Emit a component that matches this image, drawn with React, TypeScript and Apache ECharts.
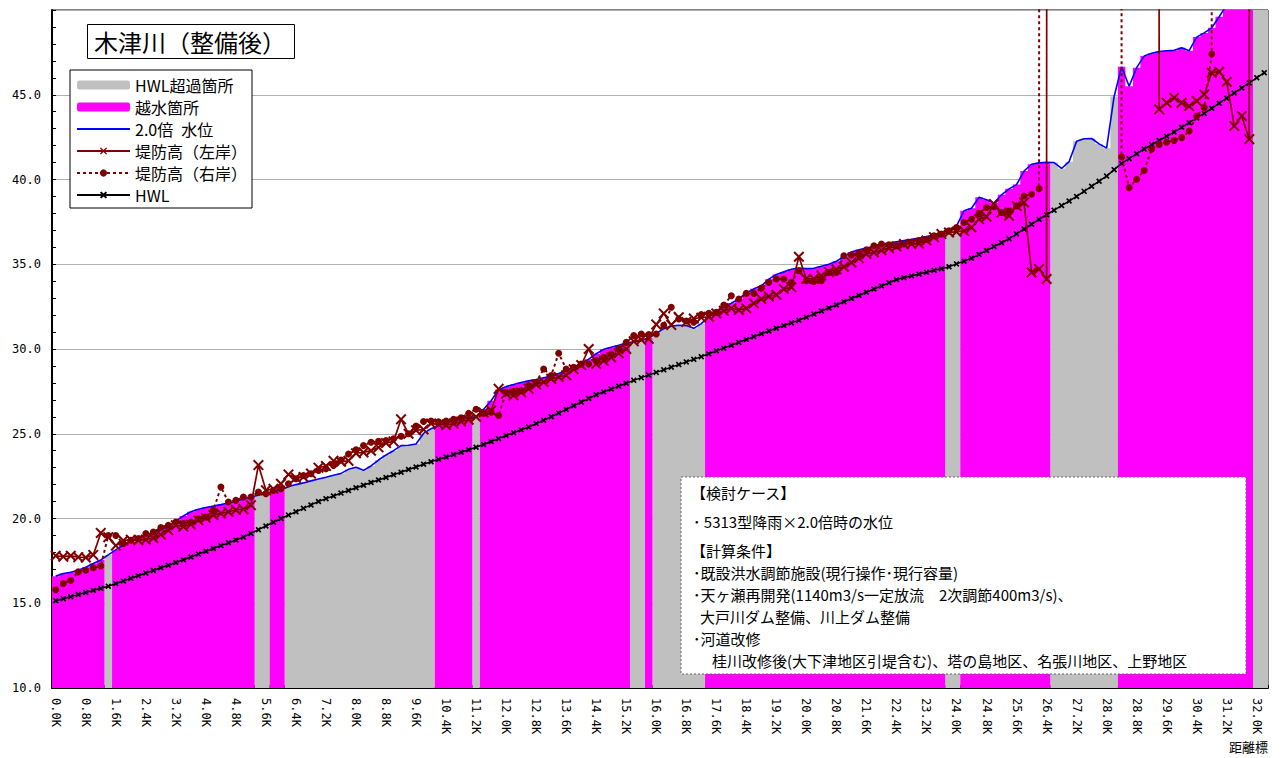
import React, { useEffect, useRef } from 'react';
import * as echarts from 'echarts';

// distance markers every 0.2 km (0.0K .. 32.2K)
const distances: string[] = Array.from({ length: 162 }, (_, i) => (i * 0.2).toFixed(1) + 'K');

// 2.0x water level
const waterLevel = [
  16.6, 16.75, 16.83, 16.95, 17.12, 17.35, 17.55, 17.85, 18.15, 18.45,
  18.65, 18.85, 19.0, 19.15, 19.32, 19.55, 19.85, 20.15, 20.4, 20.55,
  20.65, 20.73, 20.82, 20.92, 21.02, 21.15, 21.27, 21.37, 21.47, 21.56,
  21.7, 21.87, 22.0, 22.1, 22.22, 22.33, 22.43, 22.55, 22.66, 22.9,
  23.02, 22.84, 23.1, 23.45, 23.75, 24.0, 24.3, 24.32, 24.4, 25.02,
  25.3, 25.48, 25.66, 25.82, 25.94, 25.97, 26.0, 26.45, 26.95, 27.6,
  27.78, 27.9, 28.02, 28.12, 28.2, 28.3, 28.4, 28.55, 28.72, 28.92,
  29.12, 29.4, 29.72, 29.98, 30.1, 30.22, 30.35, 30.43, 30.48, 30.65,
  30.92, 31.2, 31.35, 31.4, 31.38, 31.22, 31.5, 31.9, 32.25, 32.5,
  32.7, 32.95, 33.3, 33.55, 33.72, 34.12, 34.4, 34.55, 34.7, 34.78,
  34.74, 34.76, 34.88, 35.0, 35.18, 35.45, 35.72, 35.85, 35.95, 36.05,
  36.18, 36.25, 36.33, 36.4, 36.47, 36.55, 36.63, 36.72, 36.85, 37.0,
  37.25, 38.15, 38.3, 38.95, 38.8, 38.62, 39.1, 39.45, 39.7, 40.5,
  40.9, 40.98, 41.02, 41.0, 40.65, 41.05, 42.25, 42.4, 42.42, 42.1,
  41.85, 44.9, 46.65, 45.5, 46.6, 47.28, 47.45, 47.55, 47.6, 47.62,
  47.77, 47.6, 48.4, 48.65, 48.95, 49.6, 50.3, 51.0, 51.6, 52.2,
  52.8, 53.4,
];

// HWL (planned high water level)
const hwl = [
  15.15, 15.27, 15.39, 15.51, 15.63, 15.76, 15.88, 16.0, 16.16, 16.31,
  16.47, 16.62, 16.78, 16.93, 17.09, 17.24, 17.4, 17.57, 17.73, 17.9,
  18.07, 18.23, 18.4, 18.57, 18.73, 18.9, 19.12, 19.34, 19.56, 19.78,
  20.0, 20.2, 20.4, 20.6, 20.8, 21.0, 21.17, 21.33, 21.5, 21.65,
  21.81, 21.96, 22.12, 22.27, 22.42, 22.58, 22.73, 22.89, 23.04, 23.2,
  23.35, 23.49, 23.63, 23.77, 23.91, 24.06, 24.2, 24.37, 24.54, 24.71,
  24.89, 25.06, 25.23, 25.4, 25.6, 25.8, 26.0, 26.22, 26.43, 26.65,
  26.87, 27.08, 27.3, 27.47, 27.64, 27.81, 27.98, 28.15, 28.31, 28.46,
  28.62, 28.77, 28.93, 29.08, 29.24, 29.39, 29.55, 29.72, 29.89, 30.05,
  30.22, 30.39, 30.56, 30.73, 30.9, 31.06, 31.22, 31.38, 31.54, 31.7,
  31.88, 32.06, 32.24, 32.42, 32.6, 32.79, 32.98, 33.16, 33.35, 33.54,
  33.72, 33.91, 34.1, 34.21, 34.31, 34.42, 34.53, 34.64, 34.74, 34.85,
  35.02, 35.18, 35.35, 35.58, 35.81, 36.04, 36.27, 36.5, 36.79, 37.08,
  37.36, 37.65, 37.92, 38.19, 38.46, 38.73, 39.0, 39.3, 39.6, 39.9,
  40.2, 40.58, 40.95, 41.23, 41.52, 41.8, 42.05, 42.3, 42.55, 42.8,
  43.08, 43.35, 43.63, 43.9, 44.2, 44.5, 44.8, 45.1, 45.4, 45.7,
  46.0, 46.3,
];

// levee crest, left bank (999 = no levee / off scale)
const leftBank = [
  17.8, 17.75, 17.8, 17.72, 17.7, 17.85, 19.15, 18.9, 18.4, 18.7,
  18.75, 18.72, 18.75, 18.85, 19.05, 19.3, 19.6, 19.52, 19.65, 19.9,
  20.05, 20.2, 20.3, 20.4, 20.5, 20.55, 20.78, 23.15, 21.66, 21.75,
  22.05, 22.6, 22.4, 22.45, 22.65, 23.0, 23.1, 23.4, 23.35, 23.4,
  23.85, 23.9, 24.0, 24.2, 24.45, 24.55, 25.85, 25.0, 25.2, 25.25,
  25.6, 25.55, 25.5, 25.6, 25.72, 25.83, 26.0, 26.25, 26.37, 27.65,
  27.36, 27.26, 27.45, 27.65, 27.9, 28.05, 28.24, 28.35, 28.45, 28.8,
  29.05, 30.0, 29.12, 29.3, 29.5, 29.75, 30.0, 30.45, 30.55, 30.6,
  31.45, 32.1, 31.42, 31.87, 31.6, 31.8, 31.85, 31.9, 32.1, 32.25,
  32.4, 32.3, 32.4, 32.7, 32.95, 33.1, 33.2, 33.54, 33.64, 35.44,
  34.13, 34.15, 34.33, 34.55, 34.7, 34.85, 35.1, 35.35, 35.6, 35.7,
  35.82, 35.95, 36.05, 36.19, 36.2, 36.22, 36.4, 36.6, 36.78, 36.87,
  36.92, 36.97, 37.17, 37.66, 37.8, 38.55, 38.05, 37.86, 38.44, 38.64,
  34.52, 34.72, 34.13, 999, 999, 999, 999, 999, 999, 999,
  999, 999, 999, 999, 999, 999, 999, 44.14, 44.53, 44.82,
  44.53, 44.33, 44.63, 45.02, 46.3, 46.36, 45.77, 43.16, 43.75, 42.38,
  999, 999,
];

// levee crest, right bank (999 = no levee / off scale)
const rightBank = [
  15.8, 16.17, 16.36, 16.85, 16.95, 17.09, 17.2, 19.0, 19.0, 18.52,
  18.72, 18.82, 19.11, 19.2, 19.46, 19.6, 19.79, 19.7, 19.79, 19.99,
  20.09, 20.48, 21.86, 20.97, 21.07, 21.27, 21.27, 21.56, 21.46, 21.66,
  21.76, 22.05, 22.35, 22.54, 22.64, 22.84, 22.94, 23.13, 23.45, 23.8,
  24.05, 24.3, 24.5, 24.55, 24.6, 24.7, 24.85, 25.0, 25.45, 25.72,
  25.75, 25.7, 25.75, 25.85, 25.94, 26.2, 26.45, 26.2, 26.27, 26.08,
  27.45, 27.5, 27.55, 27.84, 28.04, 28.82, 28.43, 29.75, 28.82, 28.92,
  29.12, 29.12, 29.32, 29.51, 29.71, 30.0, 30.39, 30.79, 30.88, 30.85,
  30.88, 31.4, 32.46, 31.77, 31.65, 31.58, 32.03, 32.1, 32.16, 32.6,
  33.14, 32.95, 33.28, 33.28, 33.59, 33.93, 34.13, 34.13, 33.93, 34.62,
  34.03, 33.99, 34.03, 34.52, 34.52, 35.5, 35.55, 35.64, 35.85, 36.09,
  36.19, 36.15, 36.09, 36.19, 36.29, 36.4, 36.48, 36.68, 36.78, 36.97,
  37.17, 37.46, 37.66, 38.0, 38.35, 38.39, 38.05, 38.15, 38.44, 39.03,
  39.13, 39.46, 999, 999, 999, 999, 999, 999, 999, 999,
  999, 999, 41.33, 39.52, 40.01, 40.54, 41.78, 42.07, 42.2, 42.31,
  42.47, 42.86, 43.75, 44.24, 47.4, 999, 999, 999, 999, 999,
  999, 999,
];

// overtopping sections [from km, to km]
const overtopSections: [number, number][] = [
  [0.0, 1.2], [1.6, 5.2], [5.8, 6.0], [10.2, 11.0], [11.4, 15.2],
  [15.8, 15.8], [17.4, 23.6], [24.2, 26.4], [28.4, 31.8],
];

const noteLines = [
  '【検討ケース】',
  '･ 5313型降雨×2.0倍時の水位',
  '【計算条件】',
  '･既設洪水調節施設(現行操作･現行容量)',
  '･天ヶ瀬再開発(1140m3/s一定放流　2次調節400m3/s)、',
  '大戸川ダム整備、川上ダム整備',
  '･河道改修',
  '桂川改修後(大下津地区引堤含む)、塔の島地区、名張川地区、上野地区',
];

const X_BIG = 'path://M0,1.3L1.3,0L5,3.7L8.7,0L10,1.3L6.3,5L10,8.7L8.7,10L5,6.3L1.3,10L0,8.7L3.7,5Z';
const X_SMALL = 'path://M0,2L2,0L5,3L8,0L10,2L7,5L10,8L8,10L5,7L2,10L0,8L3,5Z';

const CJK = '"Noto Sans CJK JP", sans-serif';
const MONO = '"DejaVu Sans Mono", monospace';
const WL_NAME = '2.0倍\u2002水位';

export default function App() {
  const ref = useRef<HTMLDivElement>(null);

  useEffect(() => {
    if (!ref.current) return;
    const chart = echarts.init(ref.current, null, { renderer: 'svg' });

    const isOver = (i: number) =>
      overtopSections.some(([a, b]) => i >= Math.round(a / 0.2) && i <= Math.round(b / 0.2));

    // contiguous runs of same fill type
    const grayRuns: number[][] = [];
    const magentaRuns: number[][] = [];
    let start = 0;
    for (let i = 1; i <= waterLevel.length; i++) {
      if (i === waterLevel.length || isOver(i) !== isOver(start)) {
        (isOver(start) ? magentaRuns : grayRuns).push([start, i - 1]);
        start = i;
      }
    }

    const makeRender = (color: string) => (params: any, api: any) => {
      const s = api.value(0);
      const e = api.value(1);
      const w = api.size([1, 0])[0];
      const top = params.coordSys.y;
      const base = api.coord([s, 10])[1];
      const pts: number[][] = [];
      for (let i = s; i <= e; i++) {
        const p = api.coord([i, waterLevel[i]]);
        const y = Math.max(p[1], top);
        pts.push([p[0] - w / 2, y], [p[0] + w / 2, y]);
      }
      pts.push([pts[pts.length - 1][0], base], [pts[0][0], base]);
      return { type: 'polygon', shape: { points: pts }, style: { fill: color } };
    };

    const noteX = [691, 693, 691, 693, 693, 700, 693, 712];
    const noteY = [492, 521, 550, 572, 594, 616, 638, 660];

    const option: any = {
      animation: false,
      backgroundColor: '#fff',
      title: {
        text: '木津川（整備後）',
        left: 87,
        top: 24,
        padding: [5, 9, 6, 7],
        borderColor: '#000',
        borderWidth: 1,
        backgroundColor: '#fff',
        textStyle: { fontFamily: CJK, fontSize: 24, fontWeight: 'normal', color: '#000' },
      },
      legend: {
        left: 70,
        top: 70,
        orient: 'vertical',
        padding: [7, 5, 5, 6],
        itemGap: 6,
        itemWidth: 53,
        itemHeight: 9,
        borderColor: '#000',
        borderWidth: 1,
        backgroundColor: '#fff',
        selectedMode: false,
        textStyle: { fontFamily: CJK, fontSize: 16, color: '#000' },
        data: [
          'HWL超過箇所',
          '越水箇所',
          { name: WL_NAME, itemStyle: { opacity: 0 } },
          '堤防高（左岸）',
          '堤防高（右岸）',
          'HWL',
        ],
        z: 10,
      },
      grid: {
        left: 52,
        right: 20,
        top: 10,
        bottom: 70,
        show: true,
        borderColor: '#000',
        borderWidth: 1,
        backgroundColor: 'transparent',
      },
      xAxis: {
        type: 'category',
        data: distances,
        boundaryGap: true,
        axisLine: { lineStyle: { color: '#000', width: 2 } },
        axisTick: { show: true, inside: true, interval: 0, length: 3, lineStyle: { color: '#000' } },
        axisLabel: {
          interval: 3,
          rotate: -90,
          margin: 10,
          fontFamily: MONO,
          fontSize: 12,
          color: '#000',
        },
        splitLine: { show: false },
      },
      yAxis: {
        type: 'value',
        min: 10,
        max: 50,
        interval: 5,
        axisLine: { show: true, lineStyle: { color: '#000', width: 2 } },
        axisTick: { show: true, inside: true, length: 4, lineStyle: { color: '#000' } },
        minorTick: { show: true, splitNumber: 5, length: 4, lineStyle: { color: '#000' } },
        axisLabel: {
          margin: 11,
          fontFamily: MONO,
          fontSize: 12,
          color: '#000',
          formatter: (v: number) => (v >= 50 ? '' : v.toFixed(1)),
        },
        splitLine: { show: true, lineStyle: { color: '#b0b0b0', width: 1 } },
      },
      series: [
        {
          name: 'HWL超過箇所',
          type: 'custom',
          data: grayRuns,
          encode: { x: [0, 1] },
          renderItem: makeRender('#C0C0C0'),
          itemStyle: { color: '#C0C0C0' },
          silent: true,
          z: 1,
        },
        {
          name: '越水箇所',
          type: 'custom',
          data: magentaRuns,
          encode: { x: [0, 1] },
          renderItem: makeRender('#FF00FF'),
          itemStyle: { color: '#FF00FF' },
          silent: true,
          z: 1,
        },
        {
          name: WL_NAME,
          type: 'line',
          data: waterLevel,
          symbol: 'none',
          lineStyle: { color: '#0000FF', width: 1.6 },
          itemStyle: { color: '#0000FF' },
          silent: true,
          z: 3,
        },
        {
          name: 'HWL',
          type: 'line',
          data: hwl,
          symbol: X_SMALL,
          symbolSize: 6,
          showAllSymbol: true,
          lineStyle: { color: '#000', width: 1.5 },
          itemStyle: { color: '#000' },
          silent: true,
          z: 4,
        },
        {
          name: '堤防高（右岸）',
          type: 'line',
          data: rightBank,
          symbol: 'circle',
          symbolSize: 7,
          showAllSymbol: true,
          lineStyle: { color: '#800000', width: 2, type: [3, 3] },
          itemStyle: { color: '#800000' },
          silent: true,
          z: 5,
        },
        {
          name: '堤防高（左岸）',
          type: 'line',
          data: leftBank,
          symbol: X_BIG,
          symbolSize: 11,
          showAllSymbol: true,
          lineStyle: { color: '#800000', width: 1.7 },
          itemStyle: { color: '#800000' },
          silent: true,
          z: 6,
        },
      ],
      graphic: [
        {
          type: 'rect',
          shape: { x: 681, y: 477, width: 565, height: 197 },
          style: { fill: '#fff', stroke: '#666', lineWidth: 1, lineDash: [2, 2] },
          z: 20,
        },
        ...noteLines.map((t, i) => ({
          type: 'text',
          x: noteX[i],
          y: noteY[i],
          z: 21,
          style: {
            text: t,
            fill: '#000',
            fontFamily: CJK,
            fontSize: 15,
            verticalAlign: 'middle',
            align: 'left',
          },
        })),
        {
          type: 'text',
          right: 20,
          top: 740,
          style: { text: '距離標', fill: '#000', fontFamily: CJK, fontSize: 13 },
        },
      ],
    };

    chart.setOption(option);
    return () => chart.dispose();
  }, []);

  return (
    <div
      ref={ref}
      style={{ position: 'absolute', left: 0, top: 0, width: 1288, height: 758, background: '#fff' }}
    />
  );
}
